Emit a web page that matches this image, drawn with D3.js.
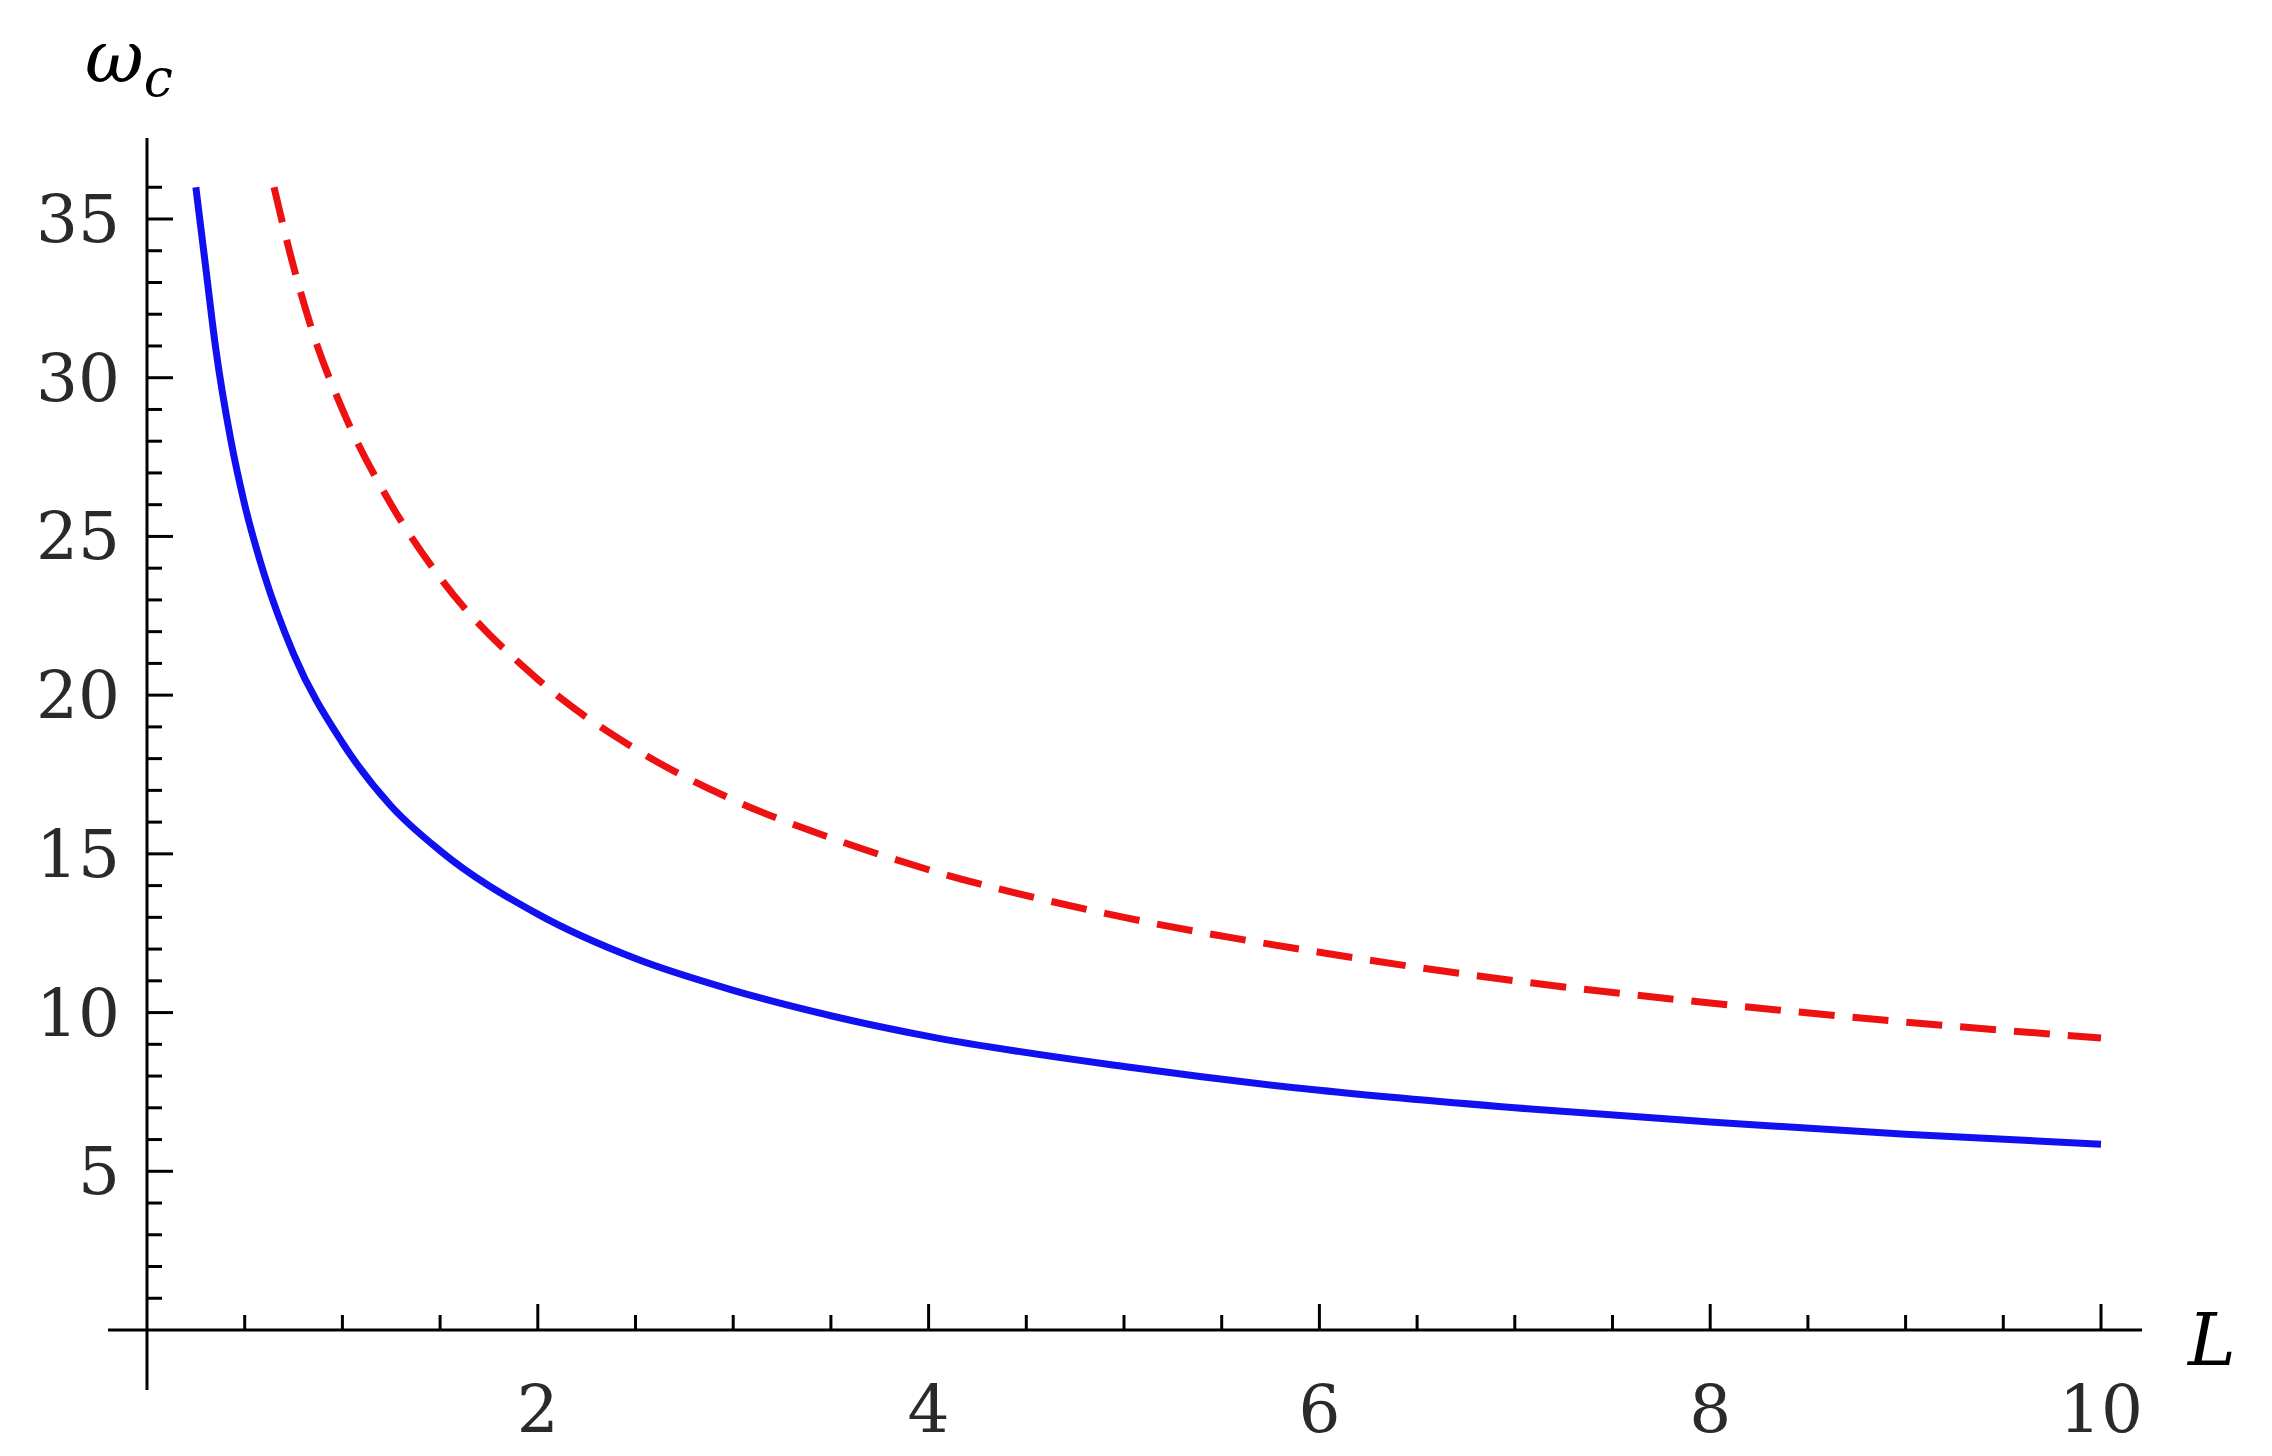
<!DOCTYPE html>
<html><head><meta charset="utf-8">
<script src="https://cdn.jsdelivr.net/npm/d3@7"></script>
<style>body{margin:0;background:#fff}</style>
</head><body><svg id="c" width="2272" height="1456"></svg>
<script>
const blueL = [0.25,0.3,0.35,0.43,0.5,0.6,0.75,1,1.25,1.5,2,2.5,3,3.5,4,5,6,7,8,9,10];
const blueW = [36,33.5,31,28,26,23.8,21.3,18.5,16.5,15.1,13.1,11.7,10.7,9.9,9.25,8.3,7.55,7.0,6.55,6.17,5.85];
const redL = [0.65,0.75,0.85,1,1.25,1.5,2,2.5,3,3.5,4,5,6,7,8,9,10];
const redW = [36,33.5,31.4,29,26,23.7,20.5,18.3,16.7,15.5,14.5,13,11.9,11,10.3,9.7,9.2];
const xTicks = [2,4,6,8,10];
const yTicks = [5,10,15,20,25,30,35];

const svg = d3.select("#c");
const x = d3.scaleLinear().domain([0,10]).range([147,2101]);
const y = d3.scaleLinear().domain([0,35]).range([1330,219]);
const font = "'DejaVu Serif', serif";

// axes
const g = svg.append("g").attr("stroke","#000").attr("stroke-width",3);
g.append("line").attr("x1",108).attr("x2",2142).attr("y1",y(0)).attr("y2",y(0));
g.append("line").attr("x1",x(0)).attr("x2",x(0)).attr("y1",1390).attr("y2",138);
d3.range(0.5,10.01,0.5).forEach(v=>{
  const major = xTicks.includes(v);
  g.append("line").attr("x1",x(v)).attr("x2",x(v)).attr("y1",y(0)).attr("y2",y(0)-(major?26:15));
});
d3.range(1,37).forEach(v=>{
  const major = yTicks.includes(v);
  g.append("line").attr("y1",y(v)).attr("y2",y(v)).attr("x1",x(0)).attr("x2",x(0)+(major?26:15));
});
svg.selectAll(".xl").data(xTicks).enter().append("text")
  .attr("x",d=>x(d)).attr("y",1432).attr("text-anchor","middle")
  .attr("font-family",font).attr("font-size",66).attr("fill","#2a2a2a").text(d=>d);
svg.selectAll(".yl").data(yTicks).enter().append("text")
  .attr("x",120).attr("y",d=>y(d)+23).attr("text-anchor","end")
  .attr("font-family",font).attr("font-size",66).attr("fill","#2a2a2a").text(d=>d);
svg.append("text").attr("x",2188).attr("y",1365).attr("font-family",font)
  .attr("font-style","italic").attr("font-size",72).text("L");
const t = svg.append("text").attr("x",85).attr("y",82).attr("font-family",font)
  .attr("font-style","italic").attr("font-size",72);
t.append("tspan").text("ω");
t.append("tspan").attr("font-size",52).attr("dy",14).text("c");

// curves
const line = d3.line().x(d=>x(d[0])).y(d=>y(d[1])).curve(d3.curveMonotoneX);
svg.append("path").attr("d",line(d3.zip(blueL,blueW))).attr("fill","none")
  .attr("stroke","#1010f0").attr("stroke-width",7);
svg.append("path").attr("d",line(d3.zip(redL,redW))).attr("fill","none")
  .attr("stroke","#ee1111").attr("stroke-width",7).attr("stroke-dasharray","36 18");
</script></body></html>
